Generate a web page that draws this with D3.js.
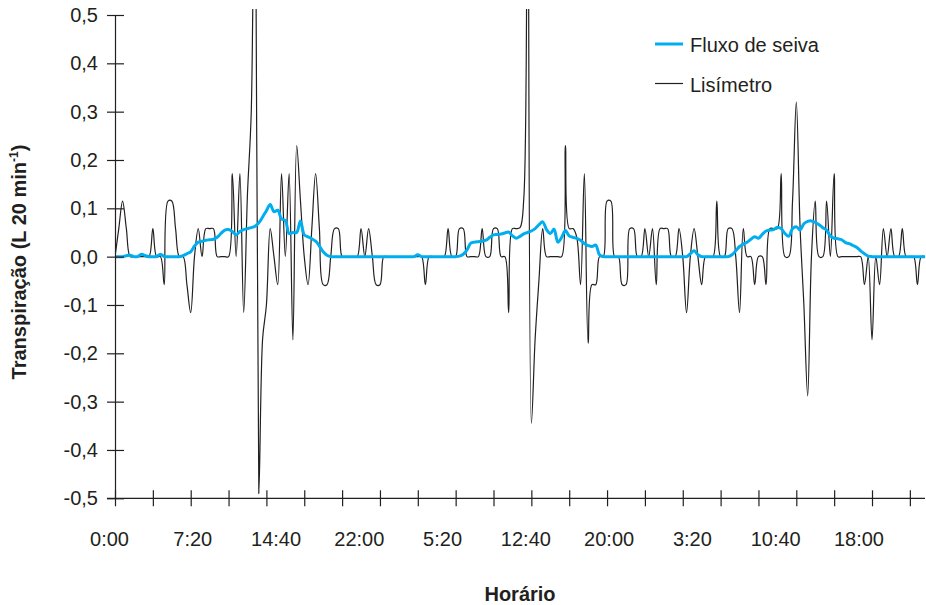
<!DOCTYPE html>
<html>
<head>
<meta charset="utf-8">
<script src="https://cdn.jsdelivr.net/npm/d3@7"></script>
<style>
  body { margin: 0; background: #fff; }
  text { font-family: "Liberation Sans", Arial, sans-serif; fill: #231f20; }
</style>
</head>
<body>
<div id="container"></div>
<script>
// readings every 20 min, starting 0:00
var step = 20;

var lisimetro = [
  0, 0.058, 0.115, 0.058, 0, 0, 0, 0, 0, 0,
  0.058, 0, 0, -0.058, 0.115, 0.115, 0.058, 0, 0, -0.058,
  -0.116, 0, 0.058, 0, 0.058, 0.058, 0.058, 0, 0, 0,
  0, 0.172, 0, 0.172, -0.116, 0.13, 0.3, 1.0, -0.49, -0.17,
  -0.1, 0.058, 0, -0.058, 0.172, 0, 0.172, -0.172, 0.23, 0.115,
  0, -0.058, 0.058, 0.172, 0.058, -0.058, -0.058, 0, 0.058, 0.058,
  0, 0, 0, 0, 0, 0.058, 0, 0.058, 0, -0.058,
  -0.058, 0, 0, 0, 0, 0, 0, 0, 0, 0,
  0, 0, -0.058, 0, 0, 0, 0, 0, 0.058, 0,
  0, 0.058, 0.058, 0, 0, 0, 0, 0.058, 0, 0,
  0.058, 0.058, 0, 0, -0.116, 0.058, 0.058, 0.06, 0.12, 1.0,
  -0.345, -0.17, -0.05, 0.058, 0, 0, 0, 0, 0, 0.23,
  0.058, 0.058, 0.04, -0.058, 0.172, -0.179, -0.058, -0.058, 0, 0,
  0.115, 0.115, 0, 0, -0.058, -0.058, 0.058, 0.058, 0, 0,
  0.058, 0, 0.058, -0.058, 0.058, 0.058, 0.058, 0, 0, 0.058,
  0, -0.116, 0, 0.058, 0, -0.058, 0, 0, 0, 0.115,
  0, 0, 0.058, 0.058, 0, -0.116, 0.058, 0, 0, -0.058,
  0, 0, -0.058, 0.058, 0.058, 0.058, 0.172, 0, 0, 0.115,
  0.32, 0.06, -0.1, -0.288, 0, 0.115, 0, 0, 0.115, 0,
  0.172, 0, 0, 0, 0, 0, 0, 0, -0.058, 0,
  -0.172, 0, -0.058, 0.058, 0, 0.058, 0, 0, 0.058, 0,
  0, 0, -0.058, 0, 0
];

var fluxo = [
  0, 0, 0, 0.002, 0.003, 0, 0, 0.005, 0.002, 0,
  0, 0, 0.005, 0, 0, 0, 0, 0, 0.002, 0.006,
  0.01, 0.022, 0.03, 0.032, 0.034, 0.035, 0.036, 0.04, 0.048, 0.055,
  0.056, 0.052, 0.045, 0.052, 0.056, 0.058, 0.06, 0.063, 0.07, 0.082,
  0.095, 0.108, 0.093, 0.096, 0.078, 0.075, 0.048, 0.05, 0.05, 0.074,
  0.045, 0.041, 0.037, 0.032, 0.022, 0.01, 0.003, 0, 0, 0,
  0, 0, 0, 0, 0, 0, 0, 0, 0, 0,
  0, 0, 0, 0, 0, 0, 0, 0, 0, 0,
  0.004, 0, 0, 0, 0, 0, 0, 0, 0, 0,
  0, 0.001, 0.005, 0.014, 0.028, 0.03, 0.031, 0.032, 0.034, 0.04,
  0.045, 0.046, 0.047, 0.049, 0.051, 0.043, 0.038, 0.042, 0.047, 0.05,
  0.053, 0.058, 0.066, 0.072, 0.056, 0.048, 0.057, 0.03, 0.04, 0.054,
  0.043, 0.04, 0.038, 0.034, 0.027, 0.023, 0.021, 0.024, 0.004, 0,
  0, 0, 0, 0, 0, 0, 0, 0, 0, 0,
  0, 0, 0, 0, 0, 0, 0, 0, 0, 0,
  0, 0, 0.006, 0.012, 0.004, 0, 0, 0, 0, 0,
  0, 0, 0, 0.004, 0.012, 0.021, 0.026, 0.03, 0.036, 0.041,
  0.038, 0.046, 0.053, 0.055, 0.056, 0.061, 0.058, 0.048, 0.042, 0.058,
  0.062, 0.055, 0.068, 0.073, 0.074, 0.071, 0.066, 0.06, 0.055, 0.043,
  0.038, 0.037, 0.035, 0.029, 0.027, 0.023, 0.019, 0.012, 0.006, 0.001,
  0, 0, 0, 0, 0, 0, 0, 0, 0, 0,
  0, 0, 0, 0, 0
];

var yTicks = [-0.5, -0.4, -0.3, -0.2, -0.1, 0, 0.1, 0.2, 0.3, 0.4, 0.5];
var xLabelEvery = 440;   // minutes between labels (7:20)
var xTickEvery = 200;    // minutes between tick marks

var series = [
  { name: "Fluxo de seiva", values: fluxo, color: "#00aeef", width: 3 },
  { name: "Lisímetro", values: lisimetro, color: "#231f20", width: 1.2 }
];

var w = 926, h = 605;
var plotLeft = 115, plotRight = 925, plotTop = 15, plotBottom = 498.3;

var svg = d3.select("div#container").append("svg")
    .attr("width", w).attr("height", h)
    .style("background-color", "white");

var tMax = (lisimetro.length - 1) * step;
var x = d3.scaleLinear().domain([0, tMax]).range([plotLeft, plotRight]);
var y = d3.scaleLinear().domain([-0.5, 0.5]).range([plotBottom, plotTop]);

svg.append("clipPath").attr("id", "plot")
  .append("rect").attr("x", plotLeft).attr("y", 9)
  .attr("width", plotRight - plotLeft + 2).attr("height", plotBottom - 9 + 2);

// lines
var line = d3.line()
    .x(function(d, i) { return x(i * step); })
    .y(function(d) { return y(d); })
    .curve(d3.curveCatmullRom.alpha(0.5));

svg.append("g").attr("clip-path", "url(#plot)")
  .selectAll("path")
  .data(series.slice().reverse())
  .enter().append("path")
    .attr("d", function(d) { return line(d.values); })
    .attr("fill", "none")
    .attr("stroke", function(d) { return d.color; })
    .attr("stroke-width", function(d) { return d.width; })
    .attr("stroke-linejoin", "round");

// y axis
var gy = svg.append("g")
    .attr("transform", "translate(" + plotLeft + ",0)")
    .call(d3.axisLeft(y)
      .tickValues(yTicks)
      .tickSizeInner(8).tickSizeOuter(0).tickPadding(9)
      .tickFormat(function(d) {
        return d3.format(".1f")(d).replace(".", ",").replace("\u2212", "-");
      }));
gy.select(".domain").attr("stroke", "#231f20").attr("stroke-width", 1.2);
gy.selectAll(".tick line").attr("x1", 9).attr("stroke", "#231f20").attr("stroke-width", 1.2);
gy.selectAll(".tick text").attr("font-size", 20).attr("fill", "#231f20")
    .attr("font-family", "Liberation Sans, Arial, sans-serif");

// x axis ticks
var gx = svg.append("g")
    .attr("transform", "translate(0," + plotBottom + ")")
    .call(d3.axisBottom(x)
      .tickValues(d3.range(0, tMax + 1, xTickEvery))
      .tickSizeInner(8).tickSizeOuter(0)
      .tickFormat(""));
gx.select(".domain").attr("d", "M" + (plotLeft - 8) + ",0H" + plotRight)
    .attr("stroke", "#231f20").attr("stroke-width", 1.2);
gx.selectAll(".tick line").attr("y1", -8).attr("stroke", "#231f20").attr("stroke-width", 1.2);

// x axis labels
var gxl = svg.append("g")
    .attr("transform", "translate(-6," + plotBottom + ")")
    .call(d3.axisBottom(x)
      .tickValues(d3.range(0, tMax, xLabelEvery))
      .tickSize(0).tickPadding(34)
      .tickFormat(function(t) {
        var hh = Math.floor(t / 60) % 24, mm = t % 60;
        return hh + ":" + (mm < 10 ? "0" : "") + mm;
      }));
gxl.select(".domain").remove();
gxl.selectAll(".tick text").attr("font-size", 20).attr("fill", "#231f20")
    .attr("font-family", "Liberation Sans, Arial, sans-serif");

// titles
svg.append("text")
    .attr("x", (plotLeft + plotRight) / 2).attr("y", 601)
    .attr("text-anchor", "middle")
    .attr("font-weight", "bold").attr("font-size", 20)
    .text("Horário");

var yt = svg.append("text")
    .attr("transform", "translate(26,262) rotate(-90)")
    .attr("text-anchor", "middle")
    .attr("font-weight", "bold").attr("font-size", 20);
yt.append("tspan").text("Transpiração (L 20 min");
yt.append("tspan").attr("font-size", 12).attr("dy", -8).text("-1");
yt.append("tspan").attr("dy", 8).text(")");

// legend
var lg = svg.append("g").attr("transform", "translate(655,44)");
var item = lg.selectAll("g").data(series).enter().append("g")
    .attr("transform", function(d, i) { return "translate(0," + i * 39.5 + ")"; });
item.append("line")
    .attr("x1", 0).attr("x2", 28)
    .attr("stroke", function(d) { return d.color; })
    .attr("stroke-width", function(d) { return d.width; });
item.append("text")
    .attr("x", 35).attr("y", 8)
    .attr("font-size", 20)
    .text(function(d) { return d.name; });
</script>
</body>
</html>
